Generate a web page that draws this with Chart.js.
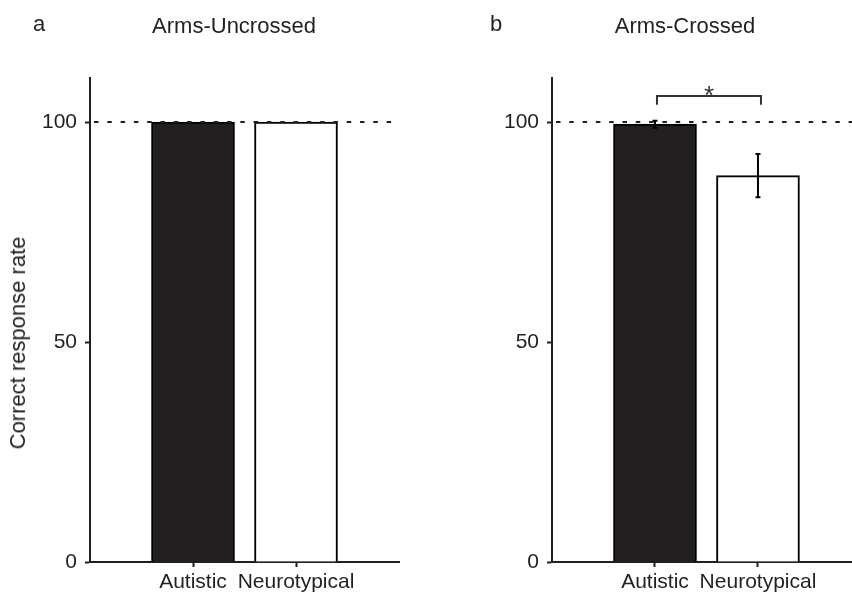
<!DOCTYPE html>
<html>
<head>
<meta charset="utf-8">
<script src="https://cdn.jsdelivr.net/npm/chart.js@4/dist/chart.umd.min.js"></script>
<style>
  html, body { margin: 0; padding: 0; background: #fff; }
  #wrap { position: relative; width: 852px; height: 593px; overflow: hidden; background: #fff; }
  canvas { position: absolute; top: 0; }
  .t { position: absolute; font-family: "Liberation Sans", Arial, sans-serif; font-size: 22px; line-height: 22px; color: #231f20; white-space: nowrap; }
</style>
</head>
<body>
<div id="wrap">
  <canvas id="ca" width="426" height="593" style="left:0;width:426px;height:593px"></canvas>
  <canvas id="cb" width="426" height="593" style="left:426px;width:426px;height:593px"></canvas>
  <div class="t" style="left:33px;top:13px">a</div>
  <div class="t" style="left:234px;top:15px;transform:translateX(-50%)">Arms-Uncrossed</div>
  <div class="t" style="left:490px;top:13px">b</div>
  <div class="t" style="left:685px;top:15px;transform:translateX(-50%)">Arms-Crossed</div>
  <div class="t" style="left:18px;top:343px;transform:translate(-50%,-50%) rotate(-90deg)">Correct response rate</div>
</div>
<script>
// ---- data ----
const categories = ['Autistic', 'Neurotypical'];
const uncrossedMeans = [100, 100];
const uncrossedErrors = [0, 0];
const crossedMeans = [99.5, 87.8];
const crossedErrors = [0.8, 4.9];
const yTicks = [0, 50, 100];
const referenceLevel = 100;
const sigPair = [0, 1];       // compared categories (index)
const sigLabel = '*';
const bracketTop = 105.9;     // y value of bracket line
const bracketFoot = 103.9;    // y value of bracket ends

const INK = '#231f20';
const FONT = 'Liberation Sans, Arial, sans-serif';
const barColors = [INK, '#ffffff'];

function overlay(means, errs, bracket) {
  return {
    id: 'overlay',
    afterDatasetsDraw(chart) {
      const { ctx, chartArea, scales: { x, y } } = chart;
      ctx.save();
      // reference dashed line
      ctx.strokeStyle = INK;
      ctx.lineWidth = 2;
      ctx.setLineDash([4.5, 8.8]);
      const yr = y.getPixelForValue(referenceLevel);
      ctx.beginPath();
      ctx.moveTo(chartArea.left + 4, yr);
      ctx.lineTo(chartArea.right, yr);
      ctx.stroke();
      ctx.setLineDash([]);
      // error bars
      errs.forEach((e, i) => {
        if (!e) return;
        const px = x.getPixelForValue(i + 1);
        const y1 = y.getPixelForValue(means[i] + e);
        const y2 = y.getPixelForValue(means[i] - e);
        ctx.strokeStyle = '#000';
        ctx.lineWidth = 2;
        ctx.beginPath();
        ctx.moveTo(px, y1); ctx.lineTo(px, y2);
        ctx.moveTo(px - 2.5, y1); ctx.lineTo(px + 2.5, y1);
        ctx.moveTo(px - 2.5, y2); ctx.lineTo(px + 2.5, y2);
        ctx.stroke();
      });
      // significance bracket
      if (bracket) {
        const xa = x.getPixelForValue(sigPair[0] + 1) + 2;
        const xb = x.getPixelForValue(sigPair[1] + 1) + 3;
        const yt = y.getPixelForValue(bracketTop);
        const yf = y.getPixelForValue(bracketFoot);
        ctx.strokeStyle = '#333';
        ctx.lineWidth = 2;
        ctx.beginPath();
        ctx.moveTo(xa, yf); ctx.lineTo(xa, yt); ctx.lineTo(xb, yt); ctx.lineTo(xb, yf);
        ctx.stroke();
        ctx.fillStyle = '#333';
        ctx.font = '26px ' + FONT;
        ctx.textAlign = 'center';
        ctx.textBaseline = 'alphabetic';
        ctx.fillText(sigLabel, (xa + xb) / 2, yt + 8);
      }
      ctx.restore();
    }
  };
}

function makeChart(id, means, errs, xMax, yAxisWidth, padRight, bracket) {
  return new Chart(document.getElementById(id), {
    type: 'bar',
    data: {
      datasets: [{
        data: categories.map((c, i) => ({ x: i + 1, y: means[i] })),
        backgroundColor: barColors,
        borderColor: '#000',
        borderWidth: 2,
        borderSkipped: 'start',
        barThickness: 83
      }]
    },
    options: {
      responsive: false,
      animation: false,
      layout: { padding: { top: 78, right: padRight, left: 0, bottom: 0 } },
      plugins: { legend: { display: false }, tooltip: { enabled: false } },
      scales: {
        x: {
          type: 'linear',
          min: 0,
          max: xMax,
          offset: false,
          afterBuildTicks: s => { s.ticks = categories.map((c, i) => ({ value: i + 1 })); },
          afterFit: s => { s.height = 31; s.paddingLeft = 0; s.paddingRight = 0; },
          ticks: {
            callback: v => categories[v - 1],
            font: { family: FONT, size: 21 },
            color: INK,
            padding: 3,
            maxRotation: 0,
            autoSkip: false
          },
          grid: { display: true, drawOnChartArea: false, offset: false, tickLength: 5, tickWidth: 2, tickColor: INK },
          border: { display: true, color: INK, width: 2 }
        },
        y: {
          min: 0,
          max: 110,
          afterBuildTicks: s => { s.ticks = yTicks.map(v => ({ value: v })); },
          afterFit: s => { s.width = yAxisWidth; s.paddingTop = 0; s.paddingBottom = 0; },
          ticks: {
            font: { family: FONT, size: 21 },
            color: INK,
            padding: 8
          },
          grid: { display: true, drawOnChartArea: false, tickLength: 5, tickWidth: 2, tickColor: INK },
          border: { display: true, color: INK, width: 2 }
        }
      }
    },
    plugins: [overlay(means, errs, bracket)]
  });
}

makeChart('ca', uncrossedMeans, uncrossedErrors, 3, 90, 27, false);
makeChart('cb', crossedMeans, crossedErrors, 2.913, 126, 0, true);
</script>
</body>
</html>
